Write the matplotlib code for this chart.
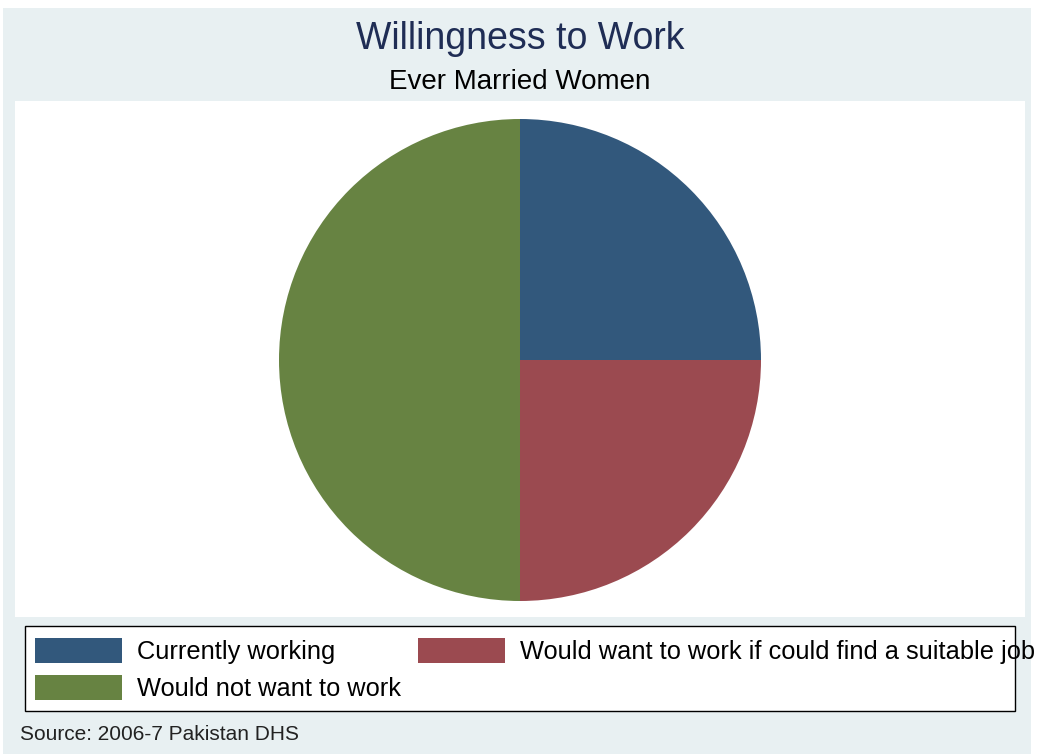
import matplotlib.pyplot as plt
from matplotlib.patches import Rectangle

plt.rcParams['font.family'] = ['Liberation Sans', 'DejaVu Sans']

# data
labels = ['Currently working', 'Would want to work if could find a suitable job', 'Would not want to work']
shares = [25, 25, 50]
colors = ['#32587C', '#9B4A50', '#678342']

W, H = 1039, 754
fig = plt.figure(figsize=(W / 100, H / 100), dpi=100)
fig.patch.set_facecolor('white')

def px(x, y, w, h):
    # pixel box (top-left origin) -> figure fraction
    return [x / W, 1 - (y + h) / H, w / W, h / H]

# outer background and white plot region
bg = px(3, 8, 1028, 746)
fig.patches.append(Rectangle(bg[:2], bg[2], bg[3], transform=fig.transFigure,
                             facecolor='#E8F0F2', edgecolor='none', zorder=0))
pr = px(15, 101, 1010, 516)
fig.patches.append(Rectangle(pr[:2], pr[2], pr[3], transform=fig.transFigure,
                             facecolor='white', edgecolor='none', zorder=0))

# pie
ax = fig.add_axes(px(279, 119, 482, 482))
ax.set_zorder(5)
ax.patch.set_visible(False)
ax.pie(shares, colors=colors, startangle=90, counterclock=False,
       wedgeprops=dict(linewidth=0))
ax.set_xlim(-1, 1)
ax.set_ylim(-1, 1)
ax.axis('off')

fig.text(520 / W, 1 - 39 / H, 'Willingness to Work', ha='center', va='center',
         fontsize=27, color='#1F2D55')
fig.text(520 / W, 1 - 82 / H, 'Ever Married Women', ha='center', va='center',
         fontsize=20, color='black')

# legend box
lb = px(25, 626, 990, 85)
fig.patches.append(Rectangle(lb[:2], lb[2], lb[3], transform=fig.transFigure,
                             facecolor='white', edgecolor='black', linewidth=1, zorder=1))
slots = [(35, 638), (418, 638), (35, 675)]
for (x, y), lab, c in zip(slots, labels, colors):
    r = px(x, y, 87, 25)
    fig.patches.append(Rectangle(r[:2], r[2], r[3], transform=fig.transFigure,
                                 facecolor=c, edgecolor='none', zorder=2))
    fig.text((x + 102) / W, 1 - (y + 14) / H, lab, ha='left', va='center',
             fontsize=18.3, color='black', zorder=3)

fig.text(20 / W, 1 - 735 / H, 'Source: 2006-7 Pakistan DHS', ha='left', va='center',
         fontsize=15, color='#222222')

fig.savefig('out.png', dpi=100)
